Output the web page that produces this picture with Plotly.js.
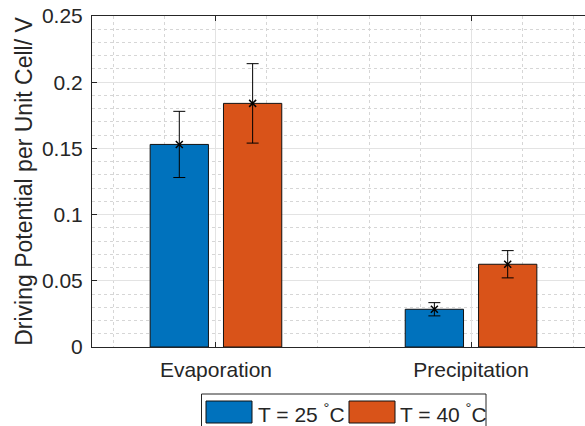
<!DOCTYPE html>
<html>
<head>
<meta charset="utf-8">
<script src="https://cdn.plot.ly/plotly-3.0.1.min.js"></script>
<style>
html,body{margin:0;padding:0;overflow:hidden;background:#fff;width:585px;height:426px;}
#chart{width:620px;height:426px;}
</style>
</head>
<body>
<div id="chart"></div>
<script>
// ---- data ----
const categories = ['Evaporation', 'Precipitation'];
const seriesNames = ['T = 25 <sup>°</sup>C', 'T = 40 <sup>°</sup>C'];
const mean25 = [0.153, 0.0285];
const err25  = [0.025, 0.0050];
const mean40 = [0.184, 0.0625];
const err40  = [0.030, 0.0103];
const yTickVals = [0, 0.05, 0.1, 0.15, 0.2, 0.25];
const yTickText = ['0', '0.05', '0.1', '0.15', '0.2', '0.25'];

// ---- styles ----
const colors = ['#0072BD', '#D95319'];
const textColor = '#262626';
const fontFam = '"Liberation Sans", Arial, Helvetica, sans-serif';
const W = 620, H = 426;
const M = {l: 92, r: 25, t: 16, b: 79};
const plotW = W - M.l - M.r, plotH = H - M.t - M.b;
const px = x => (x - M.l) / plotW;
const py = y => (H - M.b - y) / plotH;

const xpos = categories.map((_, i) => i + 1);
const means = [mean25, mean40];
const errs = [err25, err40];

const traces = [];
means.forEach((m, k) => {
  traces.push({
    type: 'bar', x: xpos, y: m, name: seriesNames[k],
    marker: {color: colors[k], line: {color: '#111', width: 1}},
    error_y: {type: 'data', array: errs[k], visible: true, color: '#000', thickness: 1, width: 6},
    showlegend: false, hoverinfo: 'skip'
  });
});
means.forEach((m, k) => {
  traces.push({
    type: 'scatter', mode: 'markers', x: xpos, y: m,
    marker: {symbol: 'x-thin', size: 7, line: {color: '#000', width: 1.5}, color: '#000'},
    showlegend: false, hoverinfo: 'skip'
  });
});

// custom legend matching MATLAB look
const shapes = [{
  type: 'rect', xref: 'paper', yref: 'paper',
  x0: px(201.5), x1: px(486), y0: py(394), y1: py(440),
  fillcolor: '#fff', line: {color: textColor, width: 1}
}];
const annotations = [];
const swX = [206, 349];
const txX = [256, 398];
seriesNames.forEach((n, k) => {
  shapes.push({
    type: 'rect', xref: 'paper', yref: 'paper',
    x0: px(swX[k]), x1: px(swX[k] + 46), y0: py(401), y1: py(423),
    fillcolor: colors[k], line: {color: '#111', width: 1}
  });
  annotations.push({
    xref: 'paper', yref: 'paper', x: px(txX[k]), y: py(413),
    xanchor: 'left', yanchor: 'middle', showarrow: false, text: n,
    font: {family: fontFam, size: 21, color: textColor}
  });
});

const gridMajor = '#e3e3e3';
const gridMinor = '#d6d6d6';
const layout = {
  width: W, height: H,
  margin: M,
  paper_bgcolor: '#fff', plot_bgcolor: '#fff',
  font: {family: fontFam, size: 21, color: textColor},
  barmode: 'group', bargap: 0.425, bargroupgap: 0.205,
  scattermode: 'group', scattergap: 0.425,
  showlegend: false,
  xaxis: {
    range: [0.514, 2.486], tickmode: 'array', tickvals: xpos, ticktext: categories,
    ticks: 'inside', ticklen: 5, tickcolor: textColor,
    showline: true, linecolor: textColor, linewidth: 1, mirror: 'ticks',
    showgrid: true, gridcolor: gridMajor, gridwidth: 1, zeroline: false,
    minor: {tickmode: 'linear', tick0: 0, dtick: 0.2, showgrid: true, gridcolor: gridMinor, griddash: 'dot', gridwidth: 1, ticks: ''},
    tickfont: {size: 21, color: textColor}, ticklabelstandoff: 4
  },
  yaxis: {
    range: [0, 0.25], tickmode: 'array', tickvals: yTickVals, ticktext: yTickText,
    ticks: 'inside', ticklen: 5, tickcolor: textColor,
    showline: true, linecolor: textColor, linewidth: 1, mirror: 'ticks',
    showgrid: true, gridcolor: gridMajor, gridwidth: 1, zeroline: false,
    minor: {tickmode: 'linear', tick0: 0, dtick: 0.01, showgrid: true, gridcolor: gridMinor, griddash: 'dot', gridwidth: 1, ticks: ''},
    tickfont: {size: 21, color: textColor}, ticklabelstandoff: 4,
    title: {text: 'Driving Potential per Unit Cell/ V', font: {size: 23, color: textColor}, standoff: 2}
  },
  shapes: shapes,
  annotations: annotations
};

Plotly.newPlot('chart', traces, layout, {displayModeBar: false, staticPlot: true});
</script>
</body>
</html>
